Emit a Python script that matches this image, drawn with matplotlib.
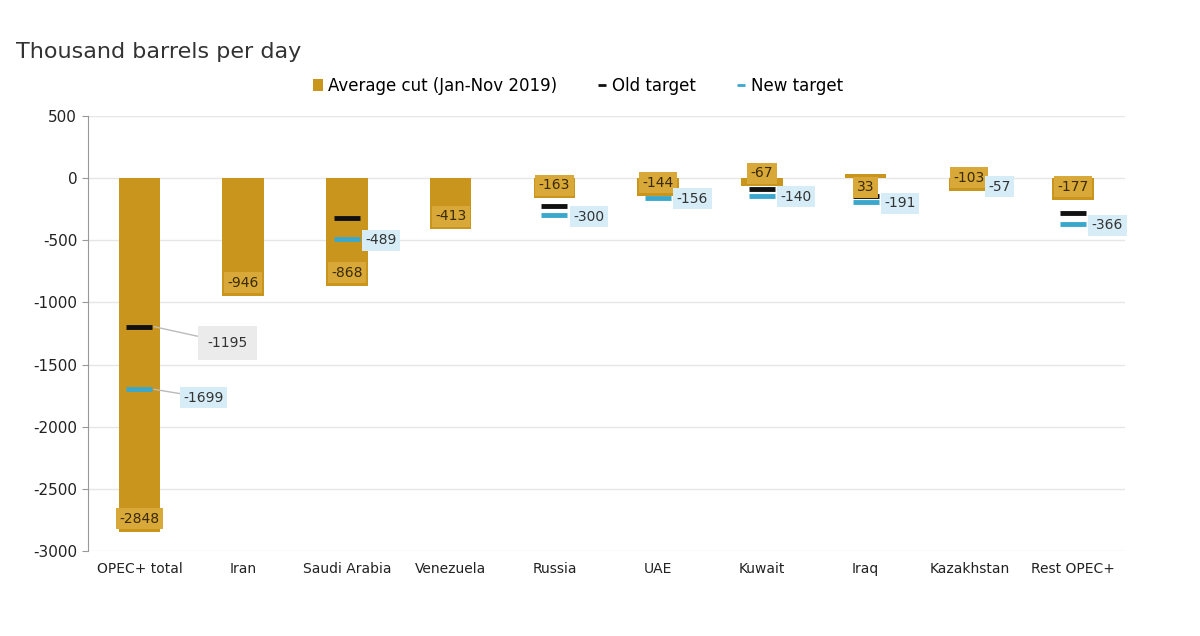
import matplotlib
matplotlib.use("Agg")
import matplotlib.pyplot as plt
import numpy as np

# ── Data ──────────────────────────────────────────────────────────────────────
countries = ["OPEC+ total", "Iran", "Saudi Arabia", "Venezuela", "Russia",
             "UAE", "Kuwait", "Iraq", "Kazakhstan", "Rest OPEC+"]
avg_cut    = [-2848, -946, -868, -413, -163, -144, -67, 33, -103, -177]
old_target = [-1195, None, -322, None, -228, -96, -85, -140, -40, -284]
new_target = [-1699, None, -489, None, -300, -156, -140, -191, -57, -366]

BAR_COLOR  = "#C9951C"
BAR_LABEL  = "#D8A838"
OLD_COLOR  = "#111111"
NEW_COLOR  = "#3AA8CC"
NEW_LABEL  = "#D6EDF8"
TEXT_COLOR = "#333333"

plt.rcParams["font.family"] = "DejaVu Sans"
plt.rcParams["axes.unicode_minus"] = False

fig = plt.figure(figsize=(12, 6.36), dpi=100)
ax = fig.add_axes([0.073, 0.1336, 0.8645, 0.684])

x = np.arange(len(countries))

# bars
bars = ax.bar(x, avg_cut, width=0.4, color=BAR_COLOR, zorder=2,
              label="Average cut (Jan-Nov 2019)")

# target markers
old_x = [i for i, v in enumerate(old_target) if v is not None]
old_y = [v for v in old_target if v is not None]
new_x = [i for i, v in enumerate(new_target) if v is not None]
new_y = [v for v in new_target if v is not None]
old_line, = ax.plot(old_x, old_y, ls="none", marker="_", markersize=19, mew=3.5,
                    color=OLD_COLOR, zorder=3, label="Old target")
new_line, = ax.plot(new_x, new_y, ls="none", marker="_", markersize=19, mew=3.5,
                    color=NEW_COLOR, zorder=3, label="New target")

# bar value labels (inside end)
for i, v in enumerate(avg_cut):
    off = 9.5 if v < 0 else -9.5
    ax.annotate(f"{v}", (i, v), xytext=(0, off), textcoords="offset points",
                ha="center", va="center", fontsize=10, color="#3a2a05",
                bbox=dict(boxstyle="square,pad=0.25", fc=BAR_LABEL, ec="none"),
                zorder=4)

# new target labels (right of marker)
for i, v in enumerate(new_target):
    if v is None or i == 0:
        continue
    ax.annotate(f"{v}", (i + 0.14, v), xytext=(3, -1), textcoords="offset points",
                ha="left", va="center", fontsize=10, color=TEXT_COLOR,
                bbox=dict(boxstyle="square,pad=0.25", fc=NEW_LABEL, ec="none"),
                zorder=4)

# OPEC+ total callouts with leader lines
ax.annotate(f"{old_target[0]}", (0.14, old_target[0]), xytext=(0.85, -1325),
            textcoords="data", ha="center", va="center", fontsize=10,
            color=TEXT_COLOR,
            bbox=dict(boxstyle="square,pad=0.7", fc="#EBEBEB", ec="none"),
            arrowprops=dict(arrowstyle="-", color="#BBBBBB", lw=1,
                            shrinkA=0, shrinkB=0), zorder=4)
ax.annotate(f"{new_target[0]}", (0.14, new_target[0]), xytext=(0.62, -1765),
            textcoords="data", ha="center", va="center", fontsize=10,
            color=TEXT_COLOR,
            bbox=dict(boxstyle="square,pad=0.25", fc=NEW_LABEL, ec="none"),
            arrowprops=dict(arrowstyle="-", color="#BBBBBB", lw=1,
                            shrinkA=0, shrinkB=0), zorder=4)

# axes styling
ax.set_xlim(-0.5, len(countries) - 0.5)
ax.set_ylim(-3000, 500)
ax.set_yticks(np.arange(-3000, 501, 500))
ax.set_xticks(x)
ax.set_xticklabels(countries, fontsize=10, color="#222222")
ax.tick_params(axis="x", length=0, pad=8)
ax.tick_params(axis="y", labelsize=11, colors="#222222", length=4,
               color="#999999")
ax.grid(axis="y", color="#E6E6E6", lw=1, zorder=0)
for s in ["top", "right", "bottom"]:
    ax.spines[s].set_visible(False)
ax.spines["left"].set_color("#999999")

fig.text(0.013, 0.918, "Thousand barrels per day", fontsize=16,
         color="#333333", va="center")

leg = fig.legend([bars, old_line, new_line],
                 ["Average cut (Jan-Nov 2019)", "Old target", "New target"],
                 loc="center", bbox_to_anchor=(0.482, 0.865), ncol=3,
                 frameon=False, fontsize=12, handlelength=0.6,
                 handletextpad=0.3, columnspacing=2.4)
for h in leg.legend_handles[1:]:
    h.set_markersize(6)
    h.set_markeredgewidth(2)

fig.savefig("out.png", dpi=100)
